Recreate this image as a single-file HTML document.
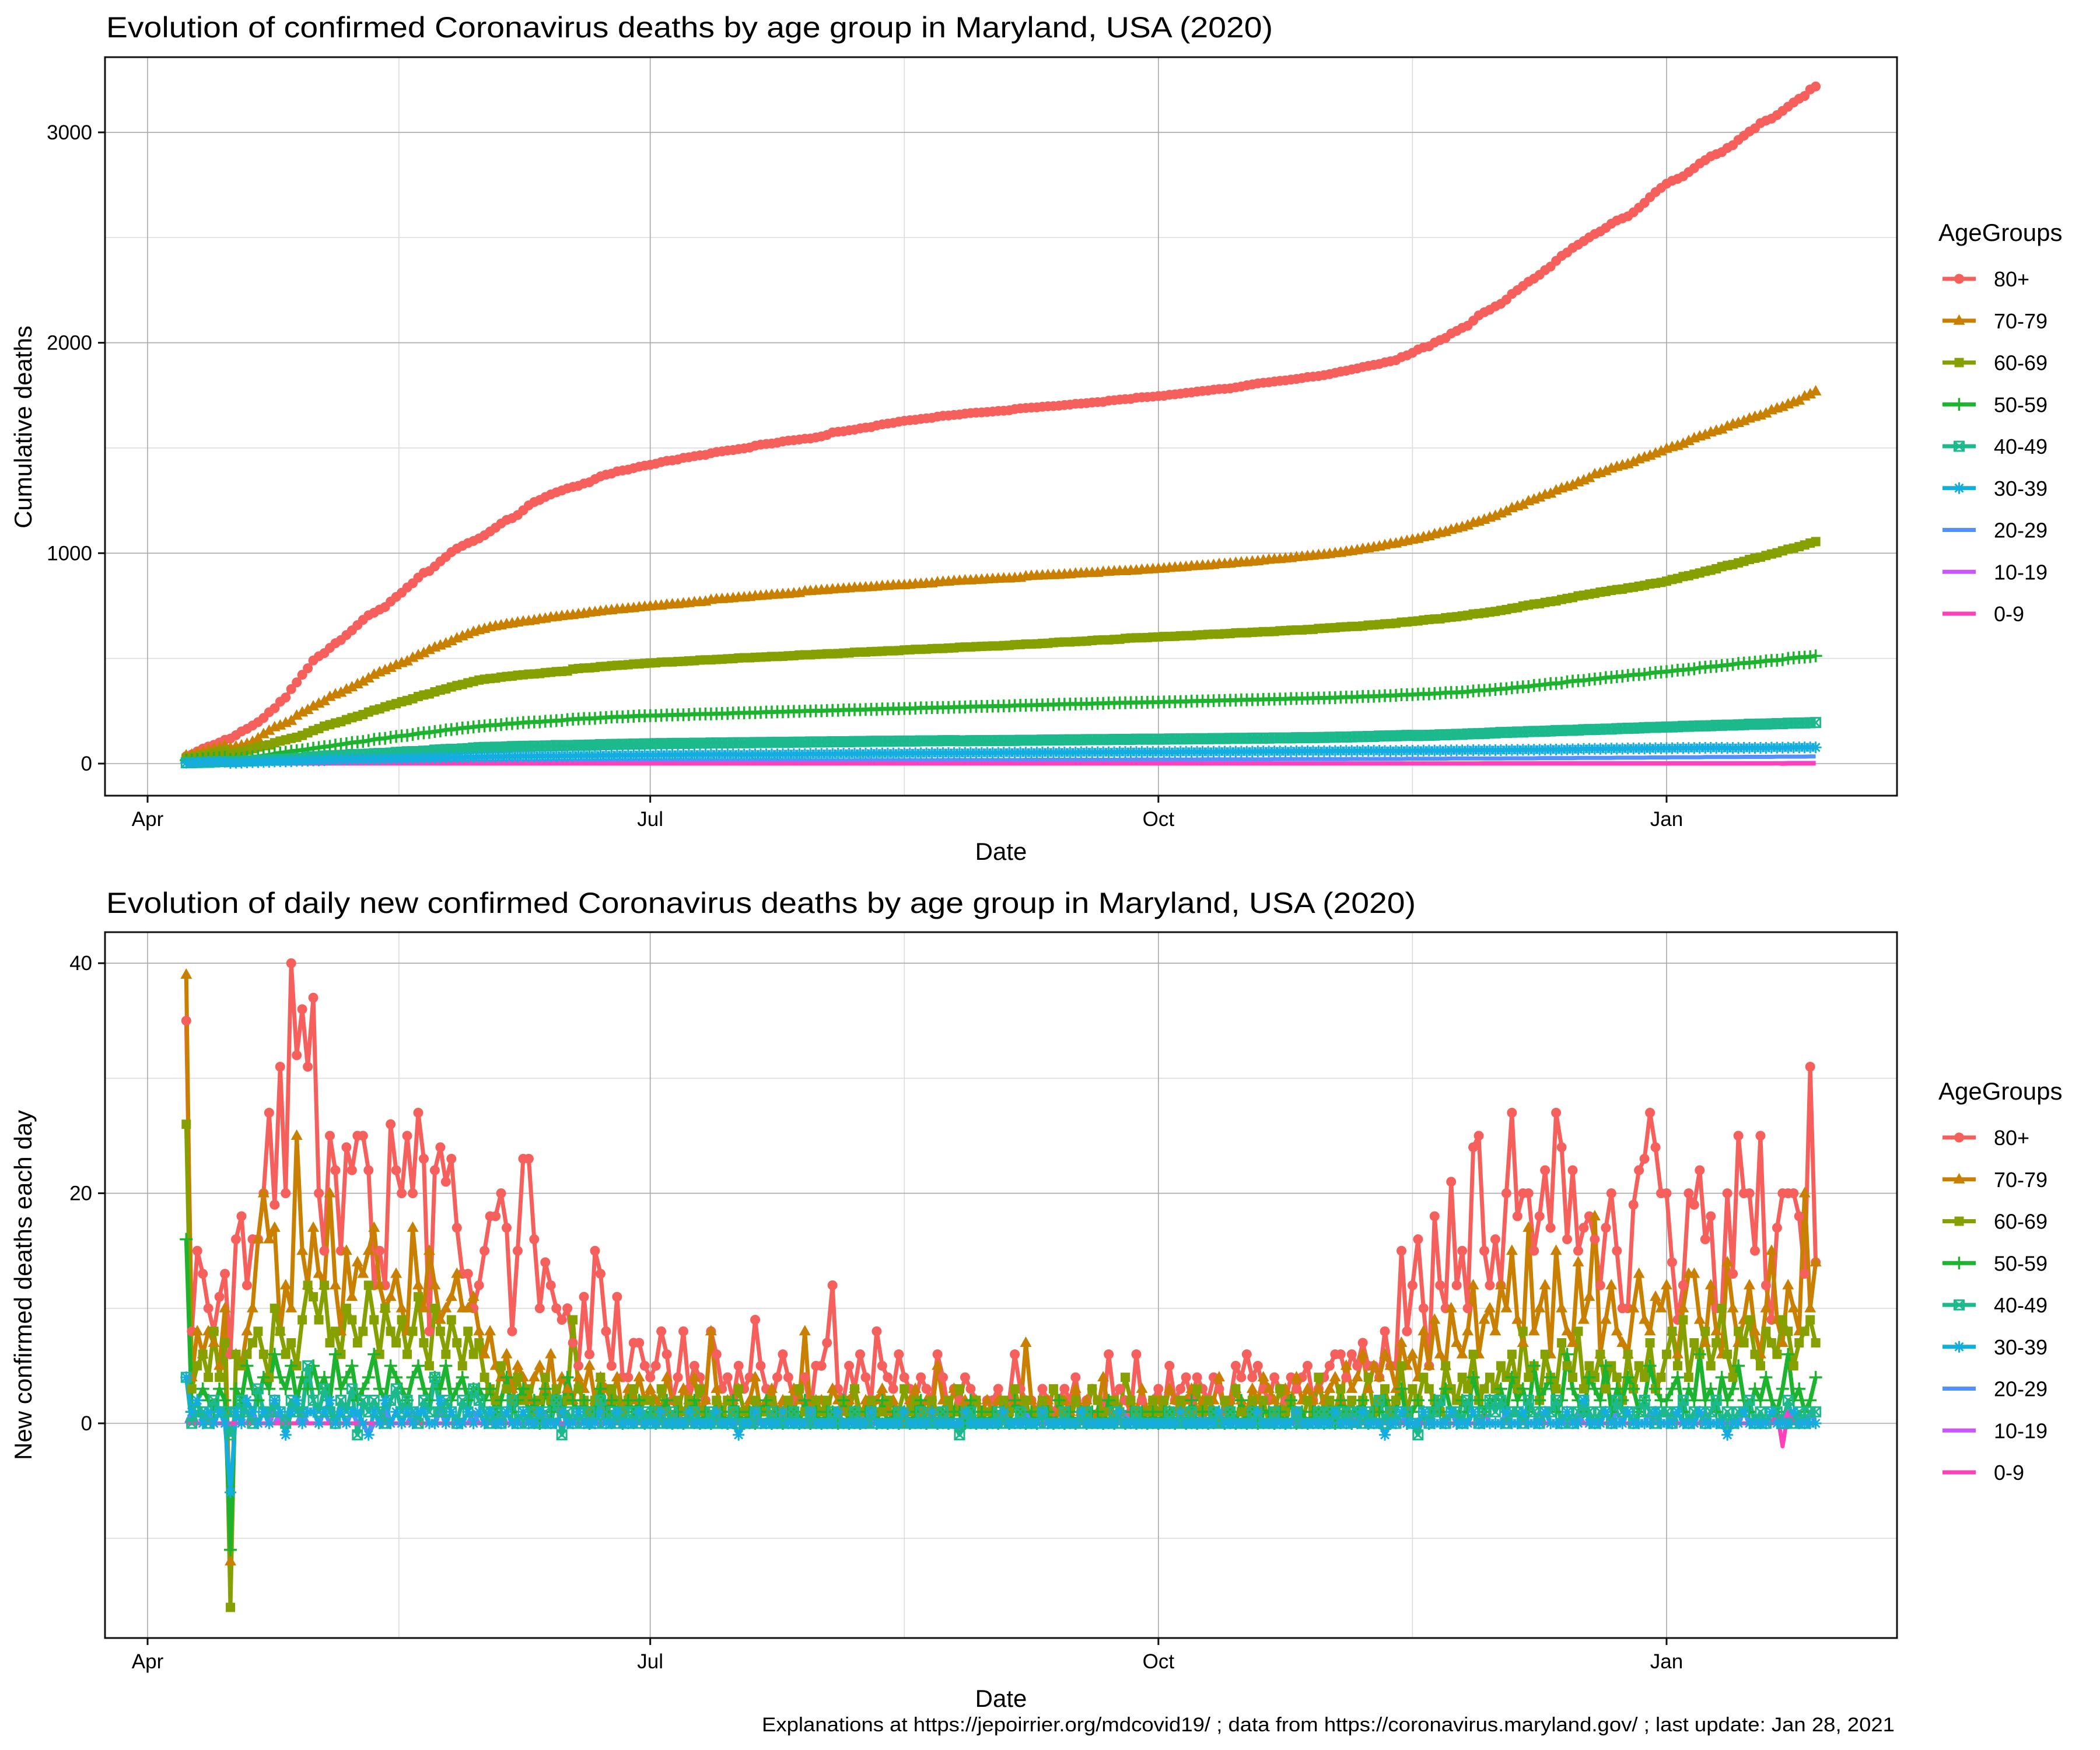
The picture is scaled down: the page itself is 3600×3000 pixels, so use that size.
<!DOCTYPE html>
<html><head><meta charset="utf-8"><title>Maryland COVID deaths by age group</title>
<style>html,body{margin:0;padding:0;background:#fff}svg{display:block;font-family:"Liberation Sans",sans-serif}</style>
</head><body>
<svg id="chart" width="3600" height="3000" viewBox="0 0 3600 3000" xmlns="http://www.w3.org/2000/svg">
<rect width="3600" height="3000" fill="#fff"/>
<text x="182" y="64" font-size="50" textLength="2000" lengthAdjust="spacingAndGlyphs">Evolution of confirmed Coronavirus deaths by age group in Maryland, USA (2020)</text>
<text x="182" y="1565" font-size="50" textLength="2245" lengthAdjust="spacingAndGlyphs">Evolution of daily new confirmed Coronavirus deaths by age group in Maryland, USA (2020)</text>
<text transform="translate(54,732) rotate(-90)" text-anchor="middle" font-size="42">Cumulative deaths</text>
<text transform="translate(54,2203) rotate(-90)" text-anchor="middle" font-size="42">New confirmed deaths each day</text>
<text x="1716" y="1474" text-anchor="middle" font-size="42">Date</text>
<text x="1716" y="2926" text-anchor="middle" font-size="42">Date</text>
<text x="3248" y="2968" text-anchor="end" font-size="34" textLength="1942" lengthAdjust="spacingAndGlyphs">Explanations at https://jepoirrier.org/mdcovid19/ ; data from https://coronavirus.maryland.gov/ ; last update: Jan 28, 2021</text>
<g id="top"></g>
<g id="bot"></g>
</svg>
<script>
const groups = ["80+","70-79","60-69","50-59","40-49","30-39","20-29","10-19","0-9"];
const colors = ["#F5605C","#C98000","#86A000","#1DB32E","#1BB98C","#14ADE0","#5390FF","#CC55FF","#FF40BB"];
const shapes = ["circle","triangle","square","plus","squarecross","asterisk","none","none","none"];
const xTickLabels = ["Apr","Jul","Oct","Jan"];
const xTickDays = [0,91,183,275];
const topYTicks = [0,1000,2000,3000];
const botYTicks = [0,20,40];
const startDayOffset = 7;
const d80 = [35,8,15,13,10,8,11,13,6,16,18,12,16,16,20,27,19,31,20,40,32,36,31,
37,20,15,25,22,15,24,22,25,25,22,12,15,12,26,22,20,25,20,27,23,8,22,24,21,23,17,13,13,10,12,
15,18,18,20,17,8,15,23,23,16,10,14,12,10,9,10,7,5,11,6,15,13,8,5,11,4,4,7,7,5,
4,5,8,6,2,4,8,3,5,4,2,8,6,3,4,2,5,3,4,9,5,3,2,4,6,4,2,3,4,1,5,
5,7,12,3,2,5,3,6,4,2,8,5,4,3,6,4,3,2,4,3,2,6,4,1,3,2,4,3,2,1,2,
2,3,1,2,6,3,2,2,1,3,2,1,2,3,2,4,1,2,3,2,1,6,2,3,2,1,6,2,1,2,
3,1,5,2,3,4,2,4,3,2,4,3,1,2,5,4,6,4,5,3,2,4,3,2,4,3,4,5,2,3,4,
5,6,6,4,6,5,7,5,5,4,8,5,5,15,8,12,16,10,5,18,12,10,21,12,15,10,24,25,15,12,
16,12,20,27,18,20,20,15,18,22,17,27,24,16,22,15,17,18,16,12,17,20,15,10,10,19,22,23,27,24,20,
20,14,9,12,20,19,22,16,18,10,10,20,13,25,20,20,15,25,12,9,17,20,20,20,18,13,31,14];
const d70 = [39,4,8,6,8,7,5,10,-12,6,5,8,10,16,20,16,17,8,12,10,25,15,12,
17,13,12,20,12,8,15,11,14,13,15,17,12,10,11,13,10,8,17,12,10,15,12,9,10,11,13,10,10,11,8,
6,8,5,4,6,3,5,4,2,4,5,3,6,2,4,3,2,4,3,5,2,4,3,2,4,1,3,2,4,2,
3,2,1,4,2,1,3,2,4,1,2,8,3,1,2,2,3,1,2,4,1,2,3,1,2,1,3,2,8,1,2,
2,1,3,2,1,2,3,0,2,1,2,3,1,2,1,0,2,3,1,2,1,5,2,1,3,1,2,0,2,1,2,
1,2,1,0,2,1,7,2,1,1,2,0,1,2,1,3,1,2,0,1,4,1,2,1,0,2,1,3,1,2,
2,1,3,2,1,2,3,1,2,1,2,4,1,2,3,2,1,3,2,4,3,2,1,3,2,4,2,3,2,3,2,
3,4,2,5,3,4,6,3,5,4,6,5,3,7,5,6,4,8,5,9,6,5,10,7,6,8,12,6,9,10,
8,12,10,15,9,7,17,8,10,12,6,15,10,8,7,14,9,11,18,6,9,12,8,7,6,10,13,9,8,11,10,
12,8,6,10,13,13,9,7,12,8,6,14,10,7,9,12,8,6,10,15,9,7,12,10,8,20,10,14];
const d60 = [26,3,5,6,4,8,4,7,-16,6,5,6,7,8,6,4,10,8,6,7,5,9,12,
11,9,12,7,8,6,10,9,7,8,12,9,6,10,8,7,9,6,8,11,7,5,10,8,6,9,7,5,8,6,7,
4,3,2,5,3,2,4,2,3,1,2,4,2,3,1,2,9,3,2,1,2,4,1,3,2,1,2,3,1,2,
2,1,3,1,0,2,1,2,1,3,1,0,2,1,2,1,3,1,0,2,1,1,2,0,1,2,1,3,1,0,2,
1,2,0,1,2,1,3,1,0,2,1,1,2,0,1,3,1,2,0,1,2,1,0,2,1,3,1,0,2,1,1,
1,0,2,1,3,1,2,0,1,2,1,3,2,1,0,2,1,1,3,2,1,0,2,1,4,2,1,0,1,2,
1,2,0,1,2,1,0,3,1,2,1,0,2,1,3,1,0,2,1,2,0,1,3,1,2,1,0,2,1,4,1,
2,1,3,1,2,0,2,4,1,2,3,1,2,5,1,3,2,4,3,2,1,5,3,2,4,3,6,2,3,4,
3,5,4,6,3,8,4,5,2,6,4,3,7,5,4,8,3,5,4,6,3,5,4,2,6,3,5,4,7,3,4,
6,8,5,9,4,7,6,8,5,7,10,6,4,8,7,9,6,5,8,7,6,9,8,5,7,8,9,7];
const d50 = [16,1,2,3,2,1,3,2,-11,3,2,5,3,2,4,3,6,4,3,5,2,4,3,
5,3,4,2,6,3,4,5,2,3,4,6,3,2,5,4,3,2,4,5,3,2,4,3,5,2,3,4,2,3,3,
2,3,1,2,4,1,2,3,1,2,0,3,1,2,1,4,2,1,2,0,1,3,1,2,1,0,2,1,2,0,
1,0,1,2,0,1,0,1,2,0,1,0,1,1,0,2,1,0,1,0,1,2,0,1,0,1,1,0,2,0,1,
0,1,1,0,2,0,1,0,1,1,0,2,0,1,0,1,0,1,2,0,1,0,1,0,1,1,0,2,0,1,0,
1,0,1,0,2,1,0,1,0,1,1,0,2,0,1,0,1,0,1,1,0,2,0,1,0,1,0,1,0,1,
0,1,1,0,1,0,2,0,1,0,1,1,0,1,0,2,0,1,0,1,1,0,1,0,2,0,1,0,1,1,0,
1,0,2,1,0,1,2,0,1,1,2,0,1,3,0,1,2,1,0,2,1,3,1,0,2,1,4,2,1,2,
2,3,1,4,2,3,1,5,2,3,4,1,2,6,3,2,1,4,3,2,5,1,3,2,4,3,1,2,5,3,2,
2,3,4,1,3,2,6,2,3,1,4,2,3,5,2,1,3,2,4,2,1,3,6,2,3,1,2,4];
const d40 = [4,0,1,1,0,2,1,1,-1,1,2,1,0,3,1,1,2,1,0,2,1,1,5,
2,1,3,1,0,2,1,3,-1,2,1,2,1,0,2,3,1,2,1,0,2,1,4,1,2,1,0,2,1,3,2,
1,0,1,0,1,2,0,1,0,1,0,1,0,2,-1,1,0,1,0,1,0,2,0,1,0,1,0,1,0,1,
0,1,0,0,1,0,0,0,1,0,0,1,0,0,0,1,0,0,0,1,0,0,1,0,0,0,1,0,0,1,0,
0,0,1,0,0,0,1,0,0,1,0,0,0,0,1,0,0,0,1,0,0,0,1,0,0,-1,0,1,0,0,0,
0,1,0,0,0,1,0,0,0,1,0,0,0,1,0,0,0,1,0,0,0,0,1,0,0,0,1,0,0,0,
0,0,1,0,0,0,1,0,0,0,1,0,0,1,0,0,0,1,0,0,0,1,0,0,0,1,0,0,0,1,0,
1,0,1,0,1,1,0,1,0,2,0,1,0,1,1,0,-1,1,0,1,2,0,1,1,0,2,1,0,1,2,
1,2,0,1,1,0,2,1,0,1,1,2,0,1,0,1,2,1,0,1,1,0,2,1,1,0,1,2,1,0,1,
1,0,1,2,0,1,1,0,1,2,0,1,0,1,1,2,0,1,0,1,1,0,2,0,1,0,1,1];
const d30 = [4,1,2,0,1,0,1,0,-6,1,0,2,1,0,1,0,2,1,-1,1,2,0,1,
1,0,1,2,0,1,0,1,1,0,-1,1,0,2,0,1,0,1,0,1,1,0,0,2,0,1,0,0,1,0,1,
0,1,0,0,1,0,0,1,0,0,1,0,0,0,1,0,0,1,0,0,0,1,0,0,1,0,0,0,1,0,
0,0,1,0,0,0,0,1,0,0,0,0,1,0,0,0,-1,0,0,1,0,0,0,0,1,0,0,0,0,1,0,
0,0,0,1,0,0,0,0,0,1,0,0,0,0,0,1,0,0,0,0,1,0,0,0,0,0,1,0,0,0,0,
0,0,1,0,0,0,0,0,0,1,0,0,0,0,0,0,1,0,0,0,0,0,0,1,0,0,0,0,0,0,
0,0,0,0,1,0,0,0,0,0,0,1,0,0,0,0,0,0,1,0,0,0,0,0,0,1,0,0,0,0,0,
0,1,0,0,0,0,1,0,0,0,-1,0,0,1,0,0,0,1,0,0,0,0,1,0,0,0,1,0,0,0,
0,0,1,0,0,1,0,0,0,1,0,0,0,1,0,0,2,0,0,0,1,0,0,0,1,0,0,0,0,1,0,
0,0,1,0,0,0,1,0,0,0,0,-1,0,0,1,0,0,0,0,1,0,0,0,1,0,0,0,0];
const d20 = [0,1,0,0,1,0,0,0,0,0,0,0,1,0,0,0,0,1,0,0,0,1,0,
0,0,1,0,0,0,0,1,0,0,-1,0,0,1,0,0,0,0,1,0,0,0,0,1,0,0,0,0,0,1,0,
0,0,0,1,0,0,0,0,0,0,0,1,0,0,0,0,0,0,0,1,0,0,0,0,0,0,0,0,0,0,
0,0,0,0,0,1,0,0,0,0,0,0,0,0,0,0,0,0,0,1,0,0,0,0,0,0,0,0,0,0,0,
0,0,0,0,0,0,0,1,0,0,0,0,0,0,0,0,0,0,0,0,0,0,1,0,0,0,0,0,0,0,0,
0,0,0,0,0,0,1,0,0,0,0,0,0,0,0,0,0,0,0,0,0,0,0,0,1,0,0,0,0,0,
0,0,0,0,0,0,0,0,1,0,0,0,0,0,0,0,0,0,0,0,0,1,0,0,0,0,0,0,0,0,0,
0,0,0,0,1,0,0,0,0,0,0,0,0,0,1,0,0,0,0,0,0,0,1,0,0,0,0,0,0,0,
0,0,1,0,0,0,0,0,1,0,0,0,0,0,0,1,0,0,0,0,0,0,1,0,0,0,0,0,1,0,0,
0,1,0,0,0,0,0,1,0,0,0,0,0,0,1,0,0,0,0,0,1,0,0,0,0,0,1,0];
const d10 = [0,0,0,0,0,0,0,0,0,0,0,0,0,0,0,0,1,0,0,0,0,0,0,
0,0,0,0,0,0,0,0,0,0,0,0,0,0,0,0,0,0,0,0,0,0,0,0,0,0,0,0,0,0,0,
0,0,0,0,0,0,0,0,0,0,0,0,0,0,0,0,0,0,0,0,0,0,0,0,0,0,0,0,0,0,
0,0,0,0,0,0,0,0,0,0,0,0,0,0,0,0,0,0,0,0,0,0,0,0,0,0,0,0,0,0,0,
0,0,0,0,0,0,0,0,0,0,0,0,0,0,0,0,0,0,0,0,0,0,0,0,0,0,0,0,0,0,0,
0,0,0,0,0,0,0,0,0,0,0,0,0,0,0,0,0,0,0,0,0,0,0,0,0,0,0,0,0,0,
0,0,0,0,0,0,0,0,0,0,0,0,0,0,0,0,0,0,0,0,0,0,0,0,0,0,0,0,0,0,0,
0,0,0,0,0,0,0,0,0,0,0,0,0,0,0,0,0,0,0,0,0,0,0,0,0,0,0,0,1,0,
0,0,0,0,0,0,0,0,0,0,0,0,0,0,0,0,0,0,0,0,0,0,0,0,0,0,0,0,0,0,0,
0,0,0,0,0,0,0,0,0,0,0,0,0,0,0,0,0,0,0,0,0,0,1,0,0,0,0,0];
const d0 = [0,0,0,0,0,0,0,0,0,0,0,0,0,0,0,0,0,0,0,0,0,0,0,
0,0,0,0,0,0,0,0,0,0,0,0,0,0,0,0,0,0,0,0,0,0,0,0,0,0,0,0,0,0,0,
0,0,0,0,0,0,0,0,0,0,0,0,0,0,0,0,0,0,0,0,0,0,0,0,0,0,0,0,0,0,
0,0,0,0,0,0,0,0,0,0,0,0,0,0,0,0,0,0,0,0,0,0,0,0,0,0,0,0,0,0,0,
0,0,0,0,0,0,0,0,0,0,0,0,0,0,0,0,0,0,0,0,0,0,0,0,0,0,0,0,0,0,0,
0,0,0,0,0,0,0,0,0,0,0,0,0,0,0,0,0,0,0,0,0,0,0,0,0,0,0,0,0,0,
0,0,0,0,0,0,0,0,0,0,0,0,0,0,0,0,0,0,0,0,0,0,0,0,0,0,0,0,0,0,0,
0,0,0,0,0,0,0,0,0,0,0,0,0,0,0,0,0,0,0,0,0,0,0,0,0,0,0,0,0,0,
0,0,0,0,0,0,0,0,0,0,0,0,0,0,0,0,0,0,0,0,0,0,0,0,0,0,0,0,0,0,0,
0,0,0,0,0,0,0,0,0,0,0,0,0,0,0,0,0,0,0,0,1,-2,1,0,0,0,0,0];
const daily = [d80,d70,d60,d50,d40,d30,d20,d10,d0];

const NS = "http://www.w3.org/2000/svg";
const PL = 180, PR = 3252;
function xDay(d){ return 253 + d * 9.469; }
function xIdx(i){ return xDay(startDayOffset + i); }
function yTop(v){ return 1309 - v * 0.3607; }
function yBot(v){ return 2440 - v * 19.72; }
function mk(tag, attrs, parent){
  const e = document.createElementNS(NS, tag);
  for (const k in attrs) e.setAttribute(k, attrs[k]);
  parent.appendChild(e); return e;
}
function marker(parent, shape, cx, cy, col, s){
  let e;
  if (shape === "circle") e = mk("circle", {cx:cx, cy:cy, r:8.5*s, fill:col}, parent);
  else if (shape === "triangle") e = mk("path", {d:`M${cx},${cy-11*s}L${cx+10*s},${cy+7*s}L${cx-10*s},${cy+7*s}Z`, fill:col}, parent);
  else if (shape === "square") e = mk("rect", {x:cx-8*s, y:cy-8*s, width:16*s, height:16*s, fill:col}, parent);
  else if (shape === "plus") e = mk("path", {d:`M${cx-11*s},${cy}H${cx+11*s}M${cx},${cy-11*s}V${cy+11*s}`, stroke:col, "stroke-width":3.5, fill:"none"}, parent);
  else if (shape === "squarecross") e = mk("path", {d:`M${cx-8*s},${cy-8*s}h${16*s}v${16*s}h${-16*s}ZM${cx-8*s},${cy-8*s}L${cx+8*s},${cy+8*s}M${cx+8*s},${cy-8*s}L${cx-8*s},${cy+8*s}`, stroke:col, "stroke-width":3, fill:"none"}, parent);
  else if (shape === "asterisk") e = mk("path", {d:`M${cx-10*s},${cy}H${cx+10*s}M${cx-7*s},${cy-7*s}L${cx+7*s},${cy+7*s}M${cx+7*s},${cy-7*s}L${cx-7*s},${cy+7*s}M${cx},${cy-10*s}V${cy+10*s}`, stroke:col, "stroke-width":3, fill:"none"}, parent);
  return e;
}
function panel(root, prefix, top, bottom, yfun, yTicks, yMinor, seriesList, legendTitleY){
  const grid = mk("g", {}, root);
  
  
  yMinor.forEach(v => { mk("line", {x1:PL, x2:PR, y1:yfun(v), y2:yfun(v), stroke:"#dcdcdc", "stroke-width":1.6}, grid); });
  [45.5,137,229].forEach(d => { mk("line", {x1:xDay(d), x2:xDay(d), y1:top, y2:bottom, stroke:"#dcdcdc", "stroke-width":1.6}, grid); });
  yTicks.forEach(v => { mk("line", {x1:PL, x2:PR, y1:yfun(v), y2:yfun(v), stroke:"#a8a8a8", "stroke-width":1.6}, grid); });
  xTickDays.forEach(d => { mk("line", {x1:xDay(d), x2:xDay(d), y1:top, y2:bottom, stroke:"#a8a8a8", "stroke-width":1.6}, grid); });
  const lines = mk("g", {fill:"none", "stroke-width":7, "stroke-linejoin":"round"}, root);
  const pts = mk("g", {}, root);
  seriesList.forEach((arr, g) => {
    const p = mk("polyline", {points: arr.map((v,i) => xIdx(i).toFixed(1)+","+yfun(v).toFixed(1)).join(" "), stroke:colors[g]}, lines);
    
    
  });
  seriesList.forEach((arr, g) => {
    if (shapes[g] === "none") return;
    const sg = mk("g", {}, pts);
    
    
    arr.forEach((v,i) => { marker(sg, shapes[g], xIdx(i), yfun(v), colors[g], 1); });
  });
  const frame = mk("rect", {x:PL, y:top, width:PR-PL, height:bottom-top, fill:"none", stroke:"#111", "stroke-width":3}, root);
  
  
  yTicks.forEach(v => {
    mk("line", {x1:PL-12, x2:PL, y1:yfun(v), y2:yfun(v), stroke:"#111", "stroke-width":3}, root);
    const t = mk("text", {x:PL-22, y:yfun(v)+12, "text-anchor":"end", "font-size":35}, root);
    t.textContent = String(v);
    
    
  });
  xTickDays.forEach((d,k) => {
    mk("line", {x1:xDay(d), x2:xDay(d), y1:bottom, y2:bottom+12, stroke:"#111", "stroke-width":3}, root);
    const t = mk("text", {x:xDay(d), y:bottom+52, "text-anchor":"middle", "font-size":35}, root);
    t.textContent = xTickLabels[k];
    
    
  });
  const leg = mk("g", {}, root);
  
  
  const lt = mk("text", {x:3323, y:legendTitleY, "font-size":42}, leg);
  lt.textContent = "AgeGroups";
  
  
  groups.forEach((name,g) => {
    const cy = legendTitleY + 65 + g*71.75;
    const e = mk("g", {}, leg);
    
    
    mk("line", {x1:3330, x2:3387, y1:cy, y2:cy, stroke:colors[g], "stroke-width":7}, e);
    marker(e, shapes[g], 3358.5, cy, colors[g], 1);
    const t = mk("text", {x:3418, y:cy+13, "font-size":36}, e);
    t.textContent = name;
  });
}
const cumul = daily.map(arr => { let s = 0; return arr.map(v => (s += v)); });
panel(document.getElementById("top"), "cumulative", 98, 1364, yTop, topYTicks, [500,1500,2500], cumul, 413);
panel(document.getElementById("bot"), "daily", 1598, 2808, yBot, botYTicks, [-10,10,30], daily, 1885);
</script>
</body></html>
